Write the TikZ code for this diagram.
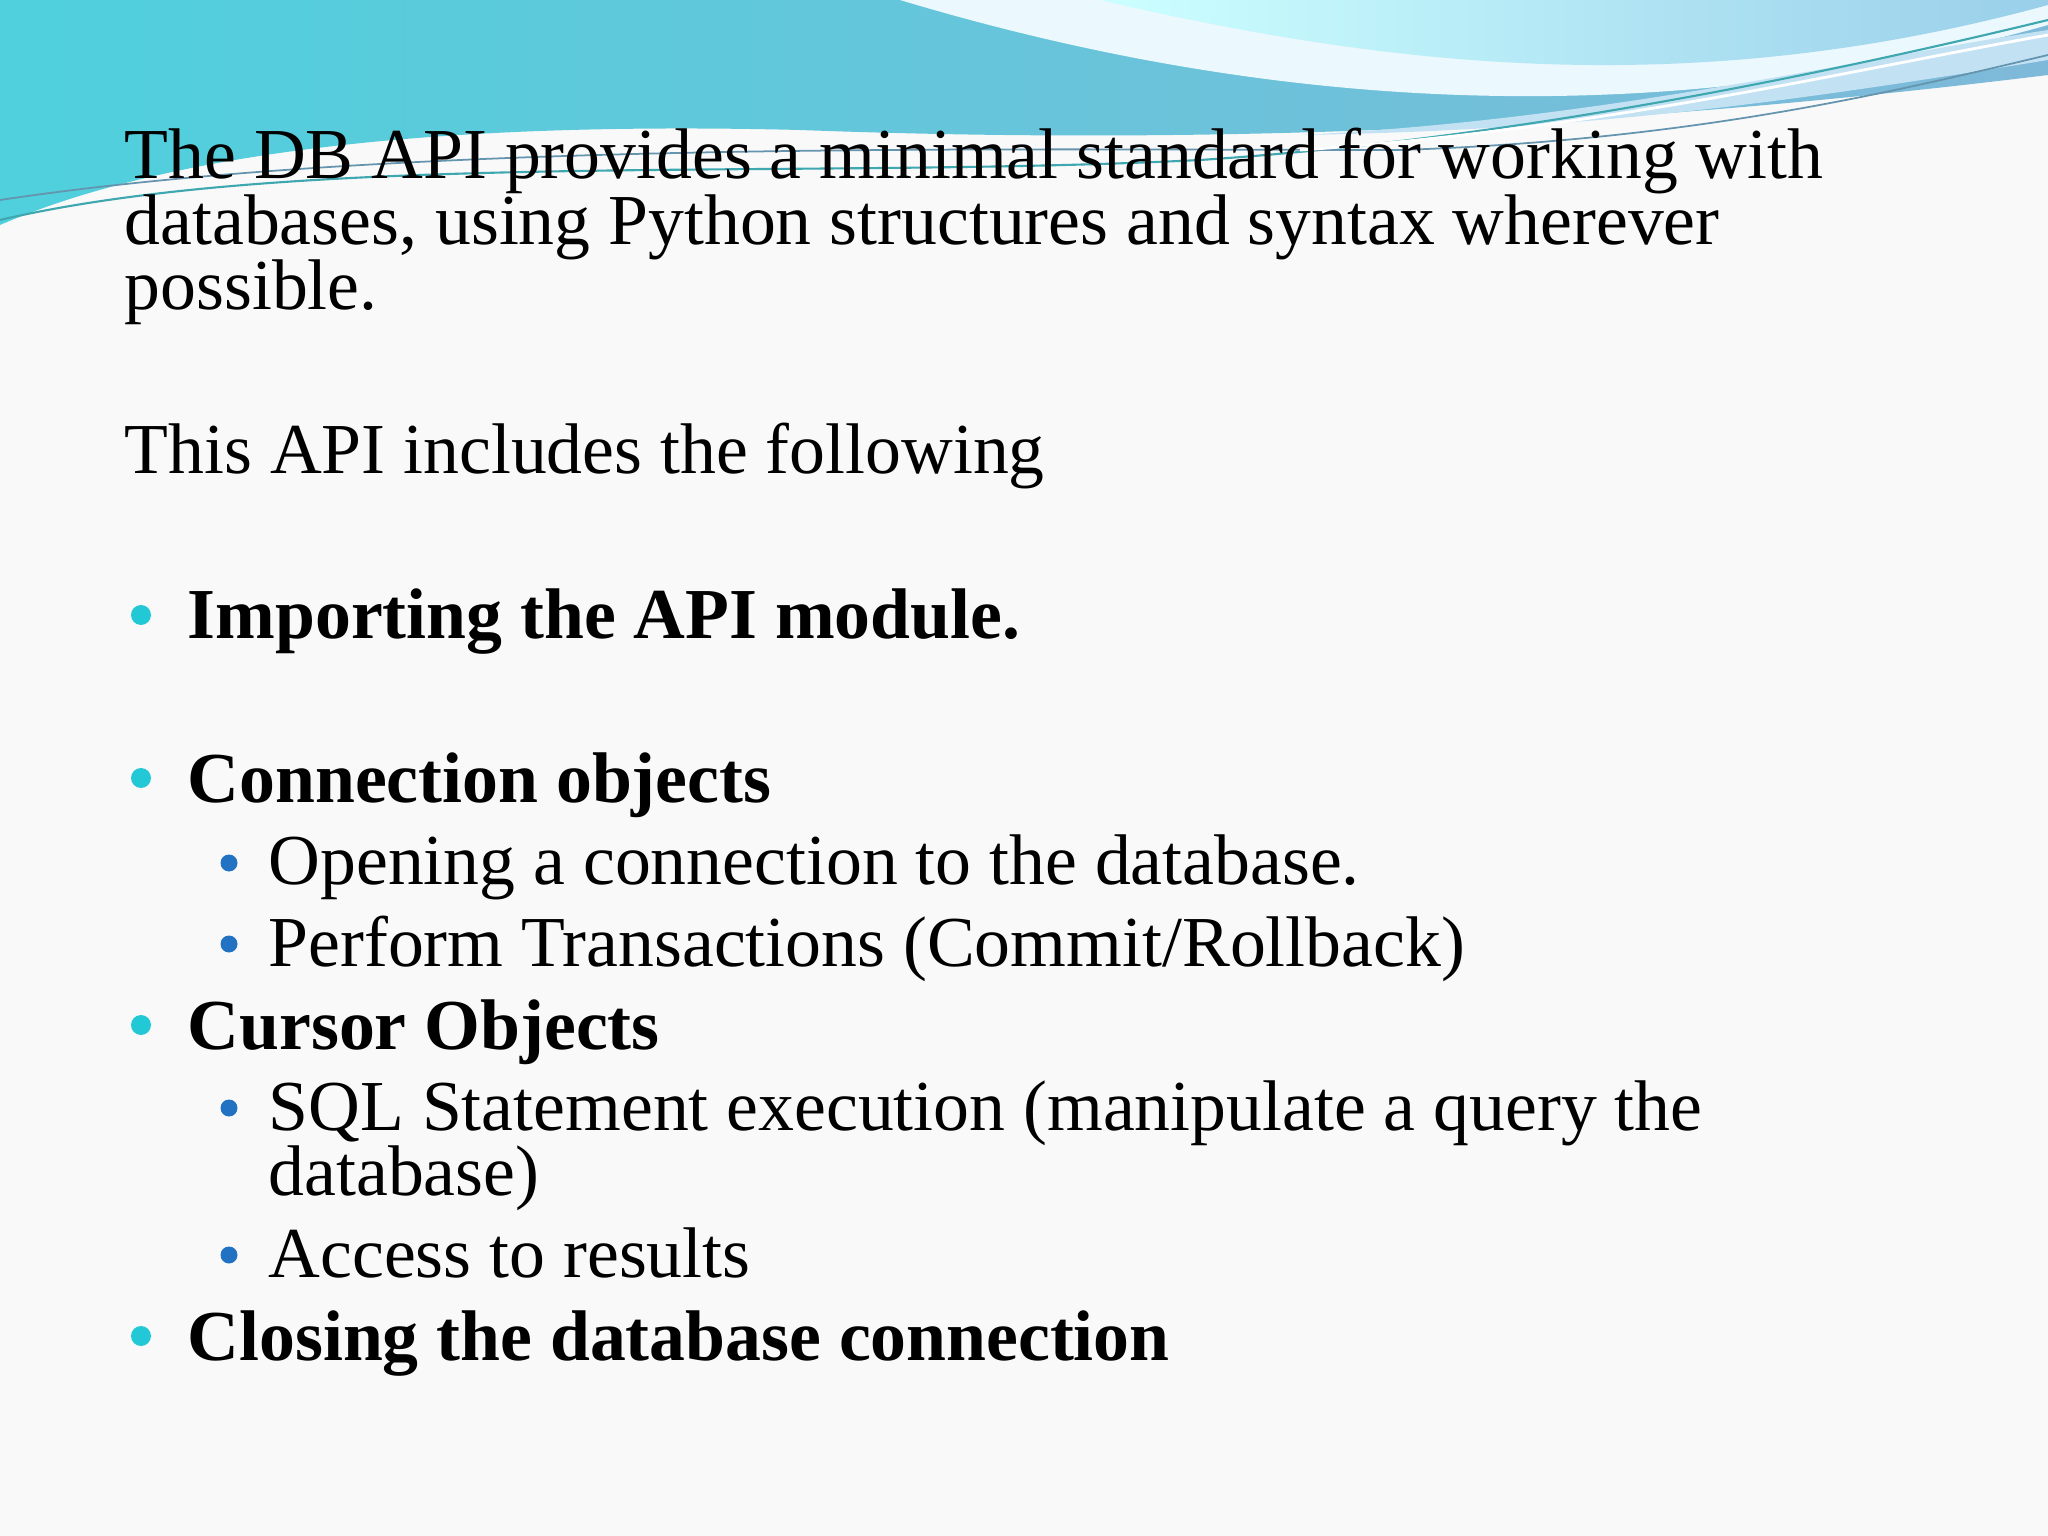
\documentclass[tikz,border=0pt]{standalone}
\usepackage{fontspec}
\setmainfont{Liberation Serif}
\definecolor{dA}{HTML}{22C8D6}
\definecolor{dB}{HTML}{2272C4}
\definecolor{wL}{HTML}{4FD0DC}
\definecolor{wM}{HTML}{7FB9D9}
\definecolor{wR}{HTML}{9ACFEA}
\begin{document}
\begin{tikzpicture}[x=1cm,y=1cm,
  txt/.style={anchor=base west,inner sep=0pt,font=\fontsize{20.4}{18.5}\selectfont,text=black},
  btxt/.style={txt,font=\fontsize{20.4}{18.5}\selectfont\bfseries},
  dotA/.style={circle,fill=dA,inner sep=0pt,minimum size=0.2cm},
  dotB/.style={circle,fill=dB,inner sep=0pt,minimum size=0.17cm}]
\useasboundingbox (0,0) rectangle (20.48,-15.36);
\fill[gray!5] (0,0) rectangle (20.48,-15.36);
% header waves
\shade[left color=wL, right color=wM]
  (0,0) -- (20.48,0) -- (20.48,-0.75) .. controls (16,-1.3) and (12,-1.45) .. (8,-1.3)
  .. controls (4,-1.2) and (1.5,-1.6) .. (0,-2.25) -- cycle;
\fill[white!92!cyan] (9,0) .. controls (12,-0.9) and (16,-1.5) .. (20.48,-0.25) -- (20.48,0) -- cycle;
\shade[left color=cyan!20!white,right color=wR]
  (11,0) .. controls (14,-0.7) and (17,-1.0) .. (20.48,-0.05) -- (20.48,0) -- cycle;
\fill[wR!60!white] (13,-1.35) .. controls (16,-1.2) and (18.5,-0.6) .. (20.48,-0.3)
  -- (20.48,-0.6) .. controls (18,-1.0) and (16,-1.3) .. cycle;
\draw[wL!80!black,line width=0.6pt] (0,-2.2) .. controls (3,-1.5) and (8,-1.8) .. (12,-1.6)
  .. controls (15,-1.4) and (18,-0.8) .. (20.48,-0.2);
\draw[wM!80!black,line width=0.5pt] (0,-2.0) .. controls (4,-1.4) and (10,-1.5) .. (14,-1.5)
  .. controls (17,-1.4) and (19,-0.9) .. (20.48,-0.55);
\draw[white,line width=0.8pt] (13,-1.5) .. controls (16,-1.3) and (18.5,-0.7) .. (20.48,-0.35);
% text
\node[txt] (p1) at (1.24,-1.79) {The DB API provides a minimal standard for working with};
\node[txt] (p2) at (1.24,-2.45) {databases, using Python structures and syntax wherever};
\node[txt] (p3) at (1.24,-3.10) {possible.};
\node[txt] (p4) at (1.24,-4.74) {This API includes the following};
\node[dotA] (d1) at (1.41,-6.15) {};
\node[btxt] (b1) at (1.87,-6.39) {Importing the API module.};
\node[dotA] (d2) at (1.41,-7.78) {};
\node[btxt] (b2) at (1.87,-8.02) {Connection objects};
\node[dotB] (d3) at (2.29,-8.63) {};
\node[txt] (s1) at (2.68,-8.85) {Opening a connection to the database.};
\node[dotB] (d4) at (2.29,-9.44) {};
\node[txt] (s2) at (2.68,-9.66) {Perform Transactions (Commit/Rollback)};
\node[dotA] (d5) at (1.41,-10.25) {};
\node[btxt] (b3) at (1.87,-10.49) {Cursor Objects};
\node[dotB] (d6) at (2.29,-11.08) {};
\node[txt] (s3) at (2.68,-11.30) {SQL Statement execution (manipulate a query the};
\node[txt] (s3b) at (2.68,-11.95) {database)};
\node[dotB] (d7) at (2.29,-12.55) {};
\node[txt] (s4) at (2.68,-12.77) {Access to results};
\node[dotA] (d8) at (1.41,-13.36) {};
\node[btxt] (b4) at (1.87,-13.60) {Closing the database connection};
\end{tikzpicture}
\end{document}
